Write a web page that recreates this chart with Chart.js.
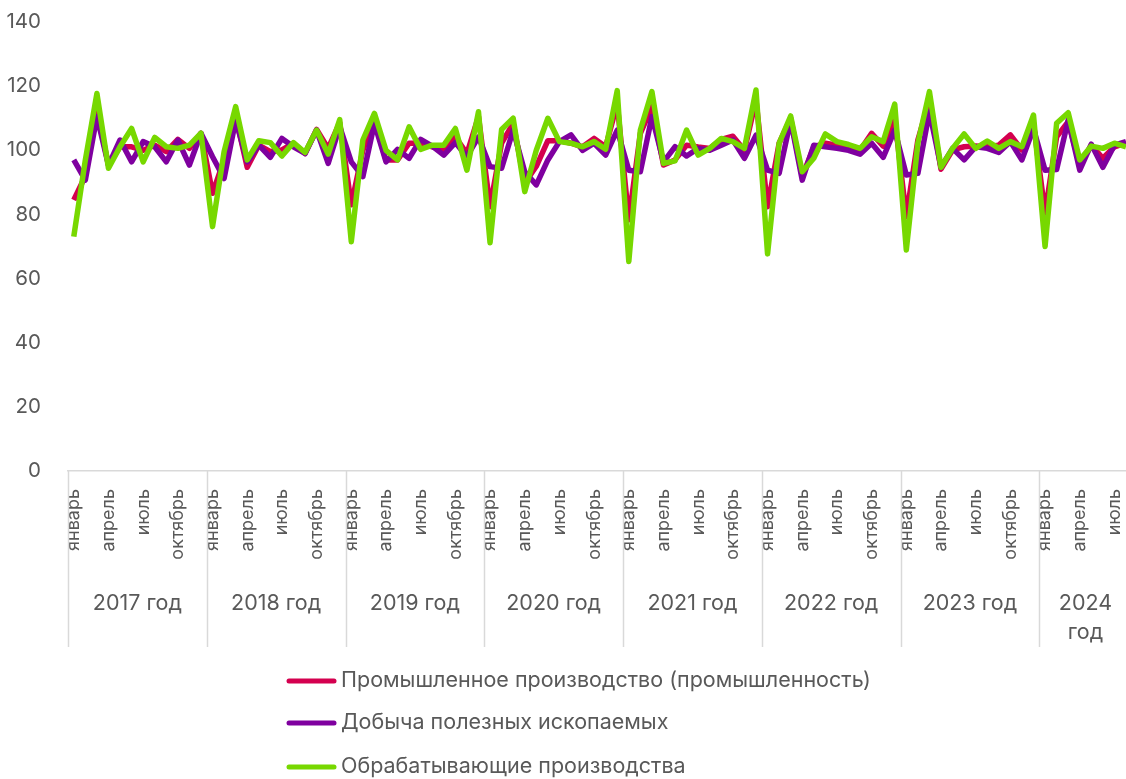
<!DOCTYPE html>
<html lang="ru">
<head>
    <meta charset="UTF-8">
    <title>Промышленное производство</title>
    <script src="https://cdn.jsdelivr.net/npm/chart.js"></script>
    <style>
        html, body { margin: 0; padding: 0; background: #fff; overflow: hidden; }
        #chart { display: block; }
    </style>
</head>
<body>
    <canvas id="chart" width="1126" height="779"></canvas>

    <script>
        // Year groups and the month ticks shown under the axis
        const years = ['2017 год', '2018 год', '2019 год', '2020 год', '2021 год', '2022 год', '2023 год', '2024 год'];
        const monthTicks = ['январь', 'апрель', 'июль', 'октябрь'];

        const seriesNames = [
            'Промышленное производство (промышленность)',
            'Добыча полезных ископаемых',
            'Обрабатывающие производства'
        ];

        // Monthly values, January 2017 - August 2024
        const industry = [
            84.5, 92, 112.5, 95.4, 101.1, 101.1, 100, 101.6, 99.6, 103.4, 100.6, 105.3,
            86.6, 97, 110.5, 94.7, 101.6, 99.6, 100.1, 102.2, 99, 106.5, 100.6, 108.6,
            83, 100, 109.4, 97, 97, 102.2, 102.2, 101.1, 100, 104.2, 99, 110.5,
            82.4, 102.2, 108.4, 89.7, 95, 103, 103, 102.2, 101.1, 103.7, 101.1, 114.6,
            78.3, 105.3, 113.6, 95.4, 97, 101.6, 101, 100.6, 103.4, 104.4, 100, 115.7,
            82.4, 102.2, 110, 91.8, 101.1, 102.2, 101.6, 101.1, 100, 105.3, 101.3, 110,
            79.3, 103.2, 115.7, 94.1, 100.1, 101.1, 101.3, 101.1, 101.6, 104.8, 100.1, 108.4,
            80.4, 104.2, 108.9, 95.4, 101.6, 97.5, 101.1, 102.2
        ];
        const mining = [
            97, 90.7, 110.5, 95.4, 103.2, 96.4, 102.7, 101.1, 96.4, 103.2, 95.4, 105.3,
            98, 91.2, 109.4, 96.4, 101.6, 97.8, 103.7, 101.1, 99, 106.3, 95.9, 107.4,
            96.4, 91.8, 108.4, 96.4, 100.3, 97.5, 103.4, 101.3, 98.5, 102.4, 98, 104.2,
            94.9, 94.4, 106.3, 93.3, 89.2, 97, 102.7, 104.8, 100, 102.2, 98.5, 106.3,
            93.8, 93.3, 110.5, 96.4, 101.1, 98.2, 100.6, 100, 101.6, 103.2, 97.5, 104.7,
            93.8, 92.8, 109.4, 90.7, 101.6, 101.1, 100.6, 100, 98.8, 102.2, 97.8, 106.3,
            92.3, 92.8, 112, 94.7, 100.6, 97, 101.1, 100.6, 99.3, 102.7, 97, 106.8,
            93.8, 94, 109.4, 93.8, 101.9, 94.7, 101.6, 102.7
        ];
        const manufacturing = [
            73.1, 97, 117.7, 94.4, 101.1, 106.8, 96.4, 104, 101.1, 100.6, 101.6, 105.3,
            76.2, 99.6, 113.6, 97, 103, 102.4, 98.2, 102.4, 99.3, 106.3, 98.8, 109.6,
            71.5, 103.2, 111.5, 100, 97, 107.3, 100.3, 101.6, 101.6, 106.8, 93.8, 112,
            71.2, 106.5, 110, 87.1, 100, 110, 102.7, 102.2, 101.1, 102.7, 100.3, 118.6,
            65.3, 106.3, 118.3, 95.9, 96.7, 106.3, 98.5, 100.6, 103.7, 102.7, 100.6, 118.8,
            67.7, 102.2, 110.7, 93.3, 97.5, 105.1, 102.7, 101.8, 100.6, 104.2, 102.7, 114.4,
            68.9, 102.2, 118.3, 94.7, 100.6, 105.1, 100.6, 102.9, 100.6, 102.7, 101.1, 111,
            70, 108.4, 111.7, 97, 101.3, 100.6, 102.2, 101.1
        ];

        const colors = ['#d4004f', '#7f009f', '#77d800'];
        const textColor = '#595959';
        const lineGray = '#d9d9d9';
        const fontFamily = 'Inter, "Noto Sans", sans-serif';

        const toPoints = arr => arr.map((v, i) => ({ x: i, y: v }));

        // Year separators, year labels and the legend are drawn here
        const extrasPlugin = {
            id: 'extras',
            afterDraw(chart) {
                const ctx = chart.ctx;
                const xs = chart.scales.x;
                const bottom = chart.chartArea.bottom;
                const last = industry.length - 1;

                ctx.save();
                ctx.strokeStyle = lineGray;
                ctx.lineWidth = 1.5;
                years.forEach((y, i) => {
                    const px = Math.round(xs.getPixelForValue(i * 12 - 0.5)) + 0.5;
                    ctx.beginPath();
                    ctx.moveTo(px, bottom);
                    ctx.lineTo(px, 647);
                    ctx.stroke();
                });

                ctx.fillStyle = textColor;
                ctx.font = '21.5px ' + fontFamily;
                ctx.textAlign = 'center';
                ctx.textBaseline = 'middle';
                years.forEach((y, i) => {
                    const start = i * 12 - 0.5;
                    const end = Math.min(i * 12 + 11.5, last + 0.5);
                    const cx = xs.getPixelForValue((start + end) / 2);
                    const groupW = xs.getPixelForValue(end) - xs.getPixelForValue(start);
                    if (ctx.measureText(y).width > groupW - 16) {
                        y.split(' ').forEach((part, j) => ctx.fillText(part, cx, 604 + j * 29));
                    } else {
                        ctx.fillText(y, cx, 604);
                    }
                });

                // legend, one entry per row
                ctx.textAlign = 'left';
                ctx.font = '21.5px ' + fontFamily;
                const rows = [681, 723, 767];
                chart.data.datasets.forEach((ds, i) => {
                    ctx.strokeStyle = ds.borderColor;
                    ctx.lineWidth = 5;
                    ctx.lineCap = 'round';
                    ctx.beginPath();
                    ctx.moveTo(289, rows[i]);
                    ctx.lineTo(334, rows[i]);
                    ctx.stroke();
                    ctx.fillText(ds.label, 341, rows[i]);
                });
                ctx.restore();
            }
        };

        const makeDataset = (label, data, color, order) => ({
            label: label,
            data: toPoints(data),
            borderColor: color,
            backgroundColor: color,
            borderWidth: 5.5,
            borderJoinStyle: 'round',
            pointRadius: 0,
            tension: 0,
            order: order
        });

        new Chart(document.getElementById('chart'), {
            type: 'line',
            data: {
                datasets: [
                    makeDataset(seriesNames[0], industry, colors[0], 3),
                    makeDataset(seriesNames[1], mining, colors[1], 2),
                    makeDataset(seriesNames[2], manufacturing, colors[2], 1)
                ]
            },
            options: {
                responsive: false,
                animation: false,
                layout: { padding: { top: 22, right: 0, bottom: 0, left: 0 } },
                plugins: {
                    legend: { display: false },
                    tooltip: { enabled: false }
                },
                scales: {
                    x: {
                        type: 'linear',
                        min: -0.5,
                        max: 91,
                        grid: { display: false },
                        border: { display: true, color: lineGray, width: 1.5 },
                        afterBuildTicks: scale => {
                            const ticks = [];
                            for (let i = 0; i < industry.length; i += 3) ticks.push({ value: i });
                            scale.ticks = ticks;
                        },
                        afterFit: scale => {
                            scale.height = 779 - 471;
                            scale.paddingLeft = 0;
                            scale.paddingRight = 0;
                        },
                        ticks: {
                            autoSkip: false,
                            minRotation: 90,
                            maxRotation: 90,
                            padding: 10,
                            color: textColor,
                            font: { family: fontFamily, size: 18 },
                            callback: value => monthTicks[(value % 12) / 3]
                        }
                    },
                    y: {
                        min: 0,
                        max: 140,
                        grid: { display: false },
                        border: { display: false },
                        afterFit: scale => {
                            scale.width = 68;
                            scale.paddingTop = 0;
                            scale.paddingBottom = 0;
                        },
                        ticks: {
                            stepSize: 20,
                            padding: 19,
                            color: textColor,
                            font: { family: fontFamily, size: 20.5 }
                        }
                    }
                }
            },
            plugins: [extrasPlugin]
        });
    </script>
</body>
</html>
